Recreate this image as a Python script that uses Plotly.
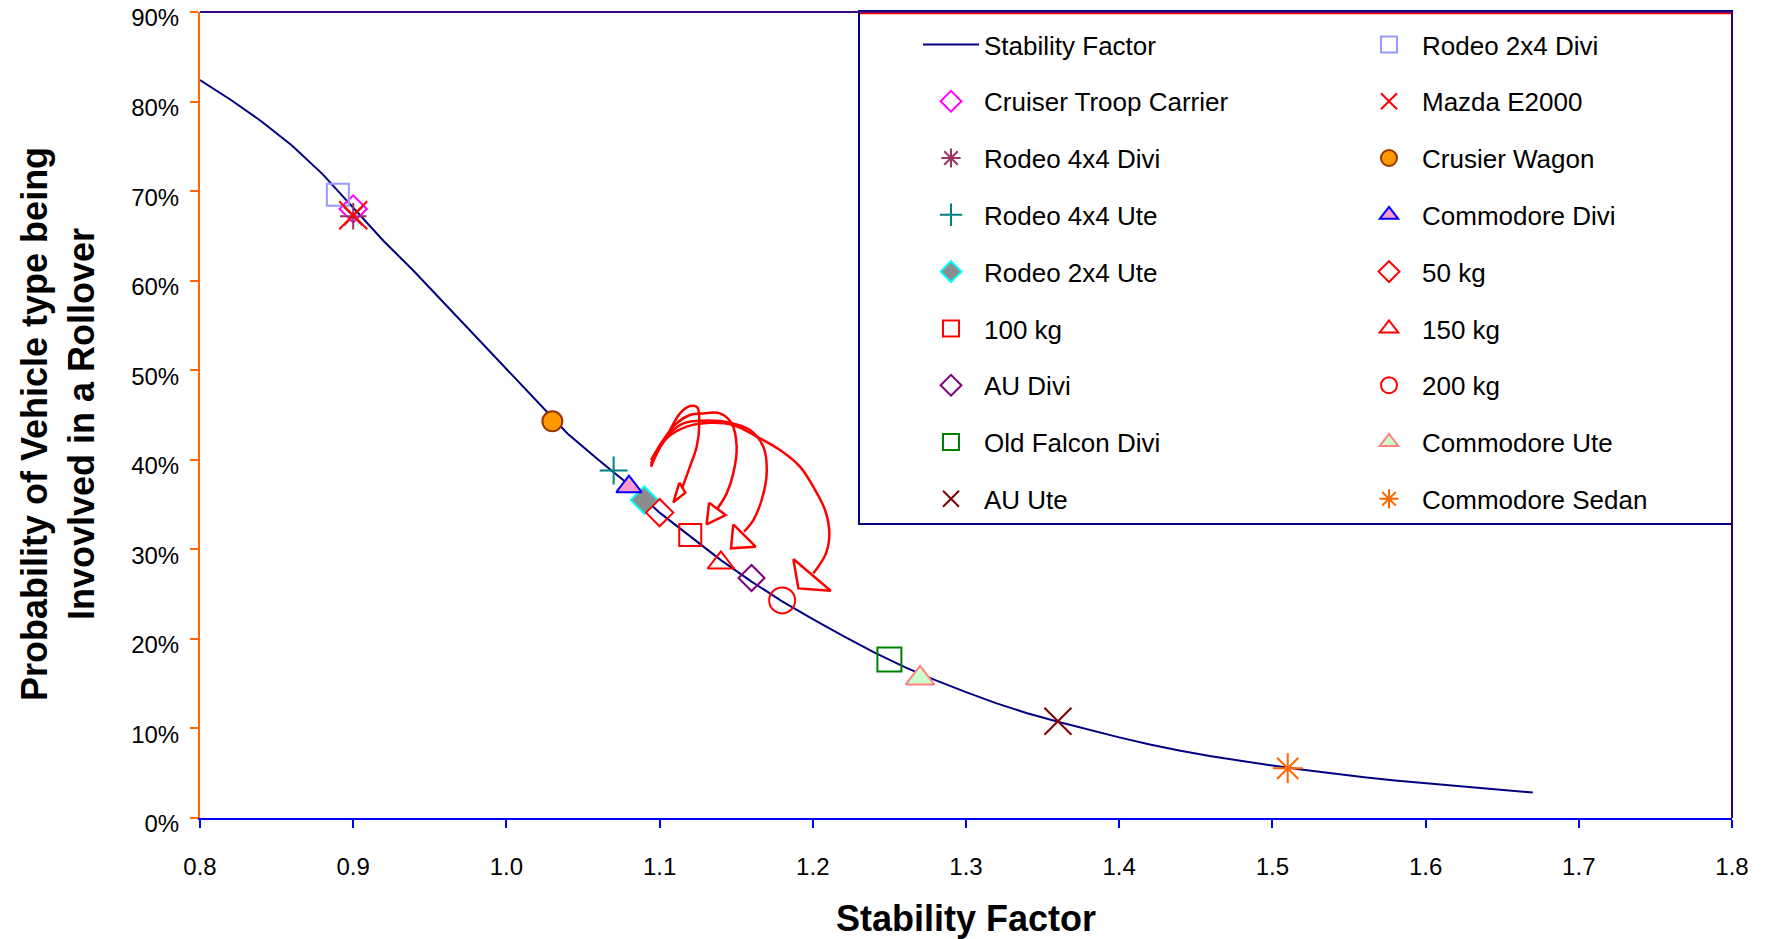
import plotly.graph_objects as go

# ---------------- data ----------------
curve_x = [0.80, 0.82, 0.84, 0.86, 0.88, 0.90, 0.92, 0.94, 0.96, 0.98,
           1.00, 1.02, 1.04, 1.06, 1.08, 1.10, 1.12, 1.14, 1.16, 1.18,
           1.20, 1.22, 1.24, 1.26, 1.28, 1.30, 1.32, 1.34, 1.36, 1.38,
           1.40, 1.42, 1.44, 1.46, 1.48, 1.50, 1.52, 1.54, 1.56, 1.58,
           1.60, 1.62, 1.64, 1.66, 1.67]
curve_y = [82.4, 80.2, 77.8, 75.1, 71.9, 68.1, 64.4, 61.0, 57.4, 53.8,
           50.2, 46.6, 42.9, 40.0, 37.2, 34.1, 31.4, 28.8, 26.4, 24.2,
           22.2, 20.3, 18.5, 16.85, 15.4, 14.05, 12.8, 11.7, 10.75, 9.85,
           9.0, 8.2, 7.5, 6.9, 6.35, 5.85, 5.4, 4.95, 4.55, 4.2,
           3.9, 3.6, 3.25, 2.95, 2.85]

vehicle_names = ["Cruiser Troop Carrier", "Rodeo 4x4 Divi", "Rodeo 4x4 Ute", "Rodeo 2x4 Ute",
                 "100 kg", "AU Divi", "Old Falcon Divi", "AU Ute",
                 "Rodeo 2x4 Divi", "Mazda E2000", "Crusier Wagon", "Commodore Divi",
                 "50 kg", "150 kg", "200 kg", "Commodore Ute", "Commodore Sedan"]
vehicle_sf = [0.90, 0.90, 1.07, 1.09,
              1.12, 1.16, 1.25, 1.36,
              0.89, 0.90, 1.03, 1.08,
              1.10, 1.14, 1.18, 1.27, 1.51]
vehicle_prob = [68.0, 67.2, 38.8, 35.5,
                31.6, 26.8, 17.7, 10.8,
                69.6, 67.3, 44.3, 37.0,
                34.1, 28.5, 24.3, 15.6, 5.55]

x_ticks = [0.8, 0.9, 1.0, 1.1, 1.2, 1.3, 1.4, 1.5, 1.6, 1.7, 1.8]
x_tick_text = ["0.8", "0.9", "1.0", "1.1", "1.2", "1.3", "1.4", "1.5", "1.6", "1.7", "1.8"]
y_ticks = [0, 10, 20, 30, 40, 50, 60, 70, 80, 90]
y_tick_text = ["0%", "10%", "20%", "30%", "40%", "50%", "60%", "70%", "80%", "90%"]

# hand-drawn arrows (data coordinates: stability factor, percent)
arrow1_x = [1.0944, 1.1003, 1.1068, 1.1133, 1.1198, 1.1246, 1.1259, 1.1242, 1.1198, 1.1148]
arrow1_y = [39.23, 41.46, 43.32, 45.18, 46.00, 45.85, 44.07, 41.46, 39.23, 36.88]
head1_x = [1.1129, 1.1168, 1.1090, 1.1129]
head1_y = [37.44, 36.33, 35.25, 37.44]

arrow2_x = [1.0944, 1.1024, 1.1111, 1.1198, 1.1285, 1.1394, 1.1470, 1.1503, 1.1481, 1.1438, 1.1377]
arrow2_y = [39.97, 42.21, 44.07, 45.00, 45.18, 45.18, 44.07, 41.46, 38.48, 36.25, 34.54]
head2_x = [1.1323, 1.1431, 1.1307, 1.1323]
head2_y = [35.21, 33.83, 32.79, 35.21]

arrow3_x = [1.0944, 1.1046, 1.1155, 1.1285, 1.1460, 1.1590, 1.1677, 1.1699, 1.1666, 1.1612, 1.1551]
arrow3_y = [39.60, 42.58, 44.07, 44.37, 44.14, 43.32, 41.46, 38.48, 35.51, 33.27, 31.97]
head3_x = [1.1481, 1.1627, 1.1466, 1.1481]
head3_y = [32.79, 30.30, 30.11, 32.79]

arrow4_x = [1.0944, 1.1046, 1.1177, 1.1329, 1.1481, 1.1634, 1.1786, 1.1916, 1.2004, 1.2080, 1.2108, 1.2086, 1.2004]
arrow4_y = [39.41, 42.39, 43.70, 44.14, 43.88, 42.58, 41.09, 39.23, 36.96, 34.39, 31.79, 29.55, 27.32]
head4_x = [1.1873, 1.2117, 1.1906, 1.1873]
head4_y = [28.92, 25.38, 25.64, 28.92]

# ---------------- styles ----------------
FONT = "Arial, Liberation Sans, sans-serif"
marker_styles = {
    "Cruiser Troop Carrier": dict(symbol="diamond-open", size=21, color="#FF00FF", line=dict(width=2, color="#FF00FF")),
    "Rodeo 4x4 Divi": dict(symbol="asterisk", size=22, color="#993366", line=dict(width=2, color="#993366")),
    "Rodeo 4x4 Ute": dict(symbol="cross-thin", size=20, color="#008080", line=dict(width=2, color="#008080")),
    "Rodeo 2x4 Ute": dict(symbol="diamond", size=21, color="#8C8C8C", line=dict(width=2, color="#00FFFF")),
    "100 kg": dict(symbol="square-open", size=22, color="#FF0000", line=dict(width=2, color="#FF0000")),
    "AU Divi": dict(symbol="diamond-open", size=20, color="#800080", line=dict(width=2, color="#800080")),
    "Old Falcon Divi": dict(symbol="square-open", size=24, color="#008000", line=dict(width=2, color="#008000")),
    "AU Ute": dict(symbol="x-thin", size=27, color="#800000", line=dict(width=2, color="#800000")),
    "Rodeo 2x4 Divi": dict(symbol="square-open", size=22, color="#9999FF", line=dict(width=2, color="#9999FF")),
    "Mazda E2000": dict(symbol="x-thin", size=28, color="#FF0000", line=dict(width=2, color="#FF0000")),
    "Crusier Wagon": dict(symbol="circle", size=20, color="#FF9900", line=dict(width=2, color="#993300")),
    "Commodore Divi": dict(symbol="triangle-up", size=22, color="#FF99CC", line=dict(width=2, color="#0000FF")),
    "50 kg": dict(symbol="diamond-open", size=21, color="#FF0000", line=dict(width=2, color="#FF0000")),
    "150 kg": dict(symbol="triangle-up-open", size=23, color="#FF0000", line=dict(width=2, color="#FF0000")),
    "200 kg": dict(symbol="circle-open", size=26, color="#FF0000", line=dict(width=2, color="#FF0000")),
    "Commodore Ute": dict(symbol="triangle-up", size=25, color="#CCFFCC", line=dict(width=2, color="#FF8080")),
    "Commodore Sedan": dict(symbol="asterisk", size=25, color="#FF6600", line=dict(width=2, color="#FF6600")),
}
column2 = {"Rodeo 2x4 Divi", "Mazda E2000", "Crusier Wagon", "Commodore Divi",
           "50 kg", "150 kg", "200 kg", "Commodore Ute", "Commodore Sedan"}

fig = go.Figure()

fig.add_trace(go.Scatter(x=curve_x, y=curve_y, mode="lines", name="Stability Factor",
                         line=dict(color="#000080", width=2), legend="legend",
                         legendgroup="g0"))

for i, (n, sx, py) in enumerate(zip(vehicle_names, vehicle_sf, vehicle_prob)):
    fig.add_trace(go.Scatter(x=[sx], y=[py], mode="markers", name=n,
                             marker=marker_styles[n],
                             legend="legend2" if n in column2 else "legend",
                             legendgroup="g%d" % (i + 1)))

for ax_, ay_, hx_, hy_ in [(arrow1_x, arrow1_y, head1_x, head1_y),
                           (arrow2_x, arrow2_y, head2_x, head2_y),
                           (arrow3_x, arrow3_y, head3_x, head3_y),
                           (arrow4_x, arrow4_y, head4_x, head4_y)]:
    fig.add_trace(go.Scatter(x=ax_, y=ay_, mode="lines", showlegend=False, hoverinfo="skip",
                             line=dict(color="#FF0000", width=2.5, shape="spline", smoothing=1.0)))
    fig.add_trace(go.Scatter(x=hx_, y=hy_, mode="lines", showlegend=False, hoverinfo="skip",
                             line=dict(color="#FF0000", width=2.5)))

# the page body margin is removed (see post_script), so figure pixels = page pixels
W, H = 1765, 939
PL, PR, PT, PB = 200, 1732, 12, 818           # plot area in page pixels
L, R, T, B = PL, W - PR, PT, H - PB
PW, PH = PR - PL, PB - PT


def px_x(p):
    return (p - PL) / PW


def px_y(p):
    return (PB - p) / PH


legend_common = dict(font=dict(family=FONT, size=26, color="#000000"), bgcolor="rgba(0,0,0,0)",
                     borderwidth=0, traceorder="grouped", tracegroupgap=20, itemwidth=56,
                     xanchor="left", yanchor="top", xref="container", yref="container",
                     maxheight=800)

fig.update_layout(
    width=W, height=H, autosize=False,
    margin=dict(l=L, r=R, t=T, b=B, autoexpand=False),
    paper_bgcolor="white", plot_bgcolor="white",
    font=dict(family=FONT, color="#000000"),
    legend=dict(x=918 / W, y=1 - 21 / H, **legend_common),
    legend2=dict(x=1356 / W, y=1 - 21 / H, **legend_common),
    xaxis=dict(range=[0.8, 1.8], tickvals=x_ticks, ticktext=x_tick_text, showgrid=False,
               zeroline=False, showline=True, linecolor="#0000FF", linewidth=2,
               ticks="outside", ticklen=8, tickwidth=1.5, tickcolor="#0000FF",
               tickfont=dict(family=FONT, size=24, color="#000000"), ticklabelstandoff=18),
    yaxis=dict(range=[0, 90], tickvals=y_ticks, ticktext=y_tick_text, showgrid=False,
               zeroline=False, showline=True, linecolor="#FF6600", linewidth=2,
               ticks="outside", ticklen=8, tickwidth=2, tickcolor="#FF6600",
               tickfont=dict(family=FONT, size=24, color="#000000"), ticklabelstandoff=6,
               ticklabelshift=6, ticklabeloverflow="allow"),
    shapes=[
        # legend box
        dict(type="rect", xref="paper", yref="paper", x0=px_x(859), x1=1.0, y0=px_y(524), y1=px_y(11),
             line=dict(color="#000080", width=2), fillcolor="rgba(0,0,0,0)", layer="above"),
        # top border
        dict(type="line", xref="paper", yref="paper", x0=0, x1=1, y0=1, y1=1,
             line=dict(color="#3A0A80", width=2)),
        dict(type="line", xref="paper", yref="paper", x0=px_x(860), x1=1, y0=px_y(13.5), y1=px_y(13.5),
             line=dict(color="#FF0000", width=1.5)),
        # right border
        dict(type="line", xref="paper", yref="paper", x0=1, x1=1, y0=0, y1=1,
             line=dict(color="#300070", width=2)),
    ],
    annotations=[
        dict(text="<b>Stability Factor</b>", xref="paper", yref="paper", x=0.5, y=px_y(918.5),
             xanchor="center", yanchor="middle", showarrow=False,
             font=dict(family=FONT, size=36, color="#000000")),
        dict(text="<b>Probability of Vehicle type being<br>Invovlved in a Rollover</b>",
             xref="paper", yref="paper", x=px_x(58), y=px_y(424), textangle=-90,
             xanchor="center", yanchor="middle", showarrow=False,
             font=dict(family=FONT, size=36, color="#000000")),
    ],
)

fig.write_html("out.html", config={"displayModeBar": False},
               post_script="document.body.style.margin='0px';document.body.style.overflow='hidden';")
